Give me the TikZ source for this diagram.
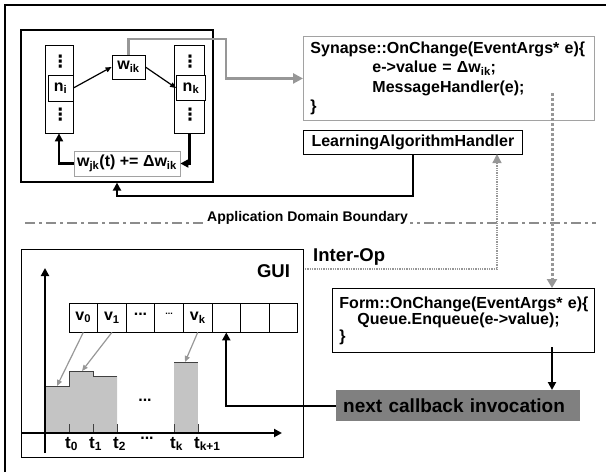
\documentclass[tikz,border=0pt]{standalone}
\usepackage{fontspec}
\setmainfont{Liberation Sans}
\newfontfamily\dotsfont{DejaVu Sans}
\usetikzlibrary{arrows.meta,positioning}
\definecolor{wiregray}{HTML}{979797}
\definecolor{edgegray}{HTML}{A2A2A2}
\definecolor{bargray}{HTML}{C4C4C4}
\definecolor{callgray}{HTML}{808080}
\definecolor{rulegray}{HTML}{8C8C8C}
\definecolor{bk80}{HTML}{404040}
\tikzset{
  panel/.style={rectangle, draw=black, line width=1.2pt, inner sep=0pt},
  column/.style={rectangle, draw=black, line width=0.8pt,
    minimum height=88pt, inner sep=0pt},
  cellbox/.style={rectangle, draw=#1, fill=white, line width=0.8pt,
    inner sep=0pt, font=\fontsize{16}{19}\selectfont\bfseries},
  cellbox/.default=black,
  codebox/.style={rectangle, draw=#1, fill=white, line width=0.9pt,
    inner xsep=7pt, inner ysep=0pt, align=left, anchor=north west},
  codebox/.default=black,
  bufcell/.style={rectangle, draw=black, line width=0.8pt,
    minimum width=28.6pt, minimum height=29pt, inner sep=0pt,
    font=\fontsize{16}{19}\selectfont\bfseries},
  vdotsnode/.style={inner sep=0pt, font=\fontsize{17}{17}\dotsfont\bfseries},
  labeltext/.style={inner sep=0pt, font=\fontsize{#1}{#1}\selectfont\bfseries},
  labeltext/.default=16,
  flowarrow/.style={-{Triangle[length=8pt,width=8pt]}, line width=2.5pt, color=#1},
  flowarrow/.default=black,
  thinarrow/.style={-{Triangle[length=6pt,width=5pt]}, line width=1.2pt, color=#1},
  thinarrow/.default=black,
  wirearrow/.style={-{Triangle[length=10pt,width=10pt]}, line width=2.5pt, color=wiregray},
  dotarrow/.style={-{Triangle[length=9pt,width=10pt]}, line width=3pt,
    color=wiregray, dash pattern=on 3pt off 2pt},
  interarrow/.style={-{Triangle[length=9pt,width=9pt]}, line width=1.3pt,
    color=wiregray, densely dotted},
  boundary/.style={line width=2pt, color=rulegray,
    dash pattern=on 10pt off 4pt on 3pt off 4pt},
}
\begin{document}
\begin{tikzpicture}[x=1pt,y=-1pt]
  \useasboundingbox (0,0) rectangle (606,472);
  \draw[line width=1.5pt] (5,472) -- (5,5) -- (606,5);

  % Network panel
  \node[panel, minimum width=192pt, minimum height=152pt] (netpanel) at (117,106) {};
  \node[column, minimum width=28pt] (colL) at (59,89) {};
  \node[column, minimum width=30pt] (colR) at (189.5,89) {};
  \node[cellbox, minimum width=25pt, minimum height=26pt] (ni) at (60.5,88) {n\textsubscript{i}};
  \node[cellbox, minimum width=29pt, minimum height=25pt] (nk) at (191,88) {n\textsubscript{k}};
  \node[vdotsnode] (dotsLa) at (60.5,62) {⋮};
  \node[vdotsnode] (dotsLb) at (60.5,115) {⋮};
  \node[vdotsnode] (dotsRa) at (190,62) {⋮};
  \node[vdotsnode] (dotsRb) at (190,115) {⋮};
  \node[cellbox, minimum width=33pt, minimum height=24pt] (wik) at (128.5,67) {w\textsubscript{ik}};
  \node[cellbox=edgegray, minimum width=106pt, minimum height=25pt] (wjk) at (127,163.5)
    {w\textsubscript{jk}(t) += Δw\textsubscript{ik}};
  \draw[thinarrow] (ni.east) -- (wik.west);
  \draw[thinarrow] (wik.east) -- (nk.west);
  \draw[flowarrow] (wjk.west) -| (colL.south);
  \draw[flowarrow] (colR.south) |- (wjk.east);

  % Synapse side
  \node[codebox=edgegray, text width=277pt, minimum height=84pt,
    font=\fontsize{16}{19.3}\selectfont\bfseries] (synapse) at (303,36)
    {Synapse::OnChange(EventArgs*~e)\{\\
     \hspace*{62pt}e->value = Δw\textsubscript{ik};\\
     \hspace*{62pt}MessageHandler(e);\\
     \}};
  \node[cellbox, minimum width=219pt, minimum height=24pt, anchor=north west] (lah) at (303,130)
    {LearningAlgorithmHandler};
  \draw[wirearrow] (wik.north) |- (226,39) |- (synapse.west);
  \draw[flowarrow] (lah.south) -- ++(0,41) -| (netpanel.south);

  % Boundary
  \draw[boundary] (25,223) -- (596,223);
  \node[labeltext=14, fill=white, inner xsep=2pt, anchor=base] (bndtext) at (307.5,221)
    {Application Domain Boundary};

  % GUI panel
  \node[panel, minimum width=282pt, minimum height=208pt, anchor=north west] (gui) at (21,249) {};
  \node[labeltext=18.5, anchor=base] (guitext) at (273.5,277) {GUI};
  \node[labeltext=18.5, anchor=base west] (interop) at (313,261) {Inter-Op};

  % bars
  \fill[bargray] (45,386) -- (69,386) -- (69,371) -- (93,371) -- (93,376) -- (117,376)
    -- (117,433) -- (45,433) -- cycle;
  \fill[bargray] (174,362) rectangle (198,433);
  \draw[bk80, line width=1pt] (45,386) -- (69,386) -- (69,371) -- (93,371) -- (93,376) -- (117,376);
  \draw[bk80, line width=1pt] (174,362) -- (198,362);
  \foreach \x in {69,93,117,174,198}
    \draw[bk80, line width=1pt] (\x,424) -- (\x,433);
  \coordinate (bar0) at (57,386);
  \coordinate (bar1) at (82,371);
  \coordinate (bark) at (185,362);

  % axes
  \draw[flowarrow, line width=2pt] (21,433) -- (282,433);
  \draw[flowarrow, line width=2pt] (45,453) -- (45,268);
  \foreach \x/\s [count=\n] in {69/0,93/1,117/2,174/k,198/k+1}
    \node[labeltext=17, anchor=base west] (tl\n) at (\x-4,448) {t\textsubscript{\s}};
  \node[labeltext] (tdots) at (147,438) {...};
  \node[labeltext] (bardots) at (145,400) {...};

  % buffer
  \foreach \i/\txt in {0/{v\textsubscript{0}}, 1/{v\textsubscript{1}}, 2/{\raisebox{6pt}{...}},
      3/{\raisebox{7pt}{\fontsize{9}{9}\selectfont ...}}, 4/{v\textsubscript{k}}, 5/{}, 6/{}, 7/{}}
    \node[bufcell] (c\i) at ({83.3+28.6*\i},317.5) {\txt};
  \draw[thinarrow=wiregray] (c0.south) -- (bar0);
  \draw[thinarrow=wiregray] (c1.south) -- (bar1);
  \draw[thinarrow=wiregray] (c4.south) -- (bark);

  % Form side
  \node[codebox, text width=248pt, minimum height=64pt,
    font=\fontsize{16}{16.5}\selectfont\bfseries] (form) at (332,288)
    {Form::OnChange(EventArgs*~e)\{\\
     \hspace*{18pt}Queue.Enqueue(e->value);\\
     \}};
  \node[rectangle, fill=callgray, minimum width=244pt, minimum height=31pt, anchor=north west,
    inner xsep=7pt, text width=230pt, font=\fontsize{19}{19}\selectfont\bfseries] (callback) at (336,390)
    {next callback invocation};
  \coordinate (synout) at (552,93);
  \coordinate (formout) at (552,347);
  \coordinate (lahin) at (497,154);
  \coordinate (guiout) at (305,269);
  \draw[dotarrow] (synout) -- (synout |- form.north);
  \draw[flowarrow, line width=2pt] (formout) -- (formout |- callback.north);
  \draw[interarrow] (guiout) -| (lahin);
  \draw[flowarrow, line width=2pt] (callback.west) -| (c5.south);
\end{tikzpicture}
\end{document}
